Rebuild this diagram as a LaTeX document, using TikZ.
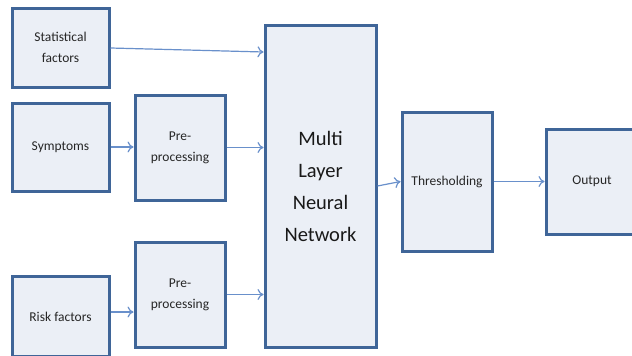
\documentclass[tikz,border=0pt]{standalone}
\usepackage{fontspec}
\setmainfont{Carlito}
\usetikzlibrary{arrows.meta}
\definecolor{boxline}{HTML}{3F6598}
\definecolor{boxfill}{HTML}{EBEFF6}
\definecolor{arrowc}{HTML}{6990CB}
\begin{document}
\begin{tikzpicture}[x=1pt,y=-1pt,
  blk/.style={draw=boxline,fill=boxfill,line width=3pt},
  lbl/.style={font=\fontsize{13.5}{21}\selectfont,align=center,text=black!85},
  big/.style={font=\fontsize{20.5}{32}\selectfont,align=center,text=black!90},
  conn/.style={draw=arrowc,line width=1.2pt,-{To[length=6pt,width=11pt]}}]
\useasboundingbox (0,0) rectangle (632,356);
\fill[white] (0,0) rectangle (632,356);
% boxes
\node[blk,minimum width=97pt,minimum height=79pt] (stat) at (60.5,47.5) {};
\node[blk,minimum width=97pt,minimum height=88pt] (symp) at (60.5,147) {};
\node[blk,minimum width=97pt,minimum height=80pt] (risk) at (60.5,316.5) {};
\node[blk,minimum width=90pt,minimum height=105pt] (pre1) at (180,147.5) {};
\node[blk,minimum width=90pt,minimum height=105pt] (pre2) at (180,294.5) {};
\node[blk,minimum width=111pt,minimum height=322pt] (nn) at (320.5,186) {};
\node[blk,minimum width=90pt,minimum height=139pt] (thr) at (447,181.5) {};
\node[blk,minimum width=92pt,minimum height=105pt] (out) at (592,181.5) {};
% labels
\node[lbl] (tstat) at (stat.center) {Statistical\\factors};
\node[lbl] (tsymp) at (symp.center) {Symptoms};
\node[lbl] (trisk) at (risk.center) {Risk factors};
\node[lbl] (tpre1) at (pre1.center) {Pre-\\processing};
\node[lbl] (tpre2) at (pre2.center) {Pre-\\processing};
\node[big] (tnn) at (nn.center) {Multi\\Layer\\Neural\\Network};
\node[lbl] (tthr) at (thr.center) {Thresholding};
\node[lbl] (tout) at (out.center) {Output};
% connectors
\draw[conn] ([yshift=-0.5pt]stat.east) -- (nn.west |- 0,52);
\draw[conn] (symp.east) -- (pre1.west |- symp.east);
\draw[conn] (pre1.east) -- (nn.west |- pre1.east);
\draw[conn] (risk.east |- 0,312) -- (pre2.west |- 0,312);
\draw[conn] (pre2.east) -- (nn.west |- pre2.east);
\draw[conn] (nn.east |- 0,186) -- (thr.west |- 0,181.5);
\draw[conn] (thr.east) -- (out.west);
\end{tikzpicture}
\end{document}
